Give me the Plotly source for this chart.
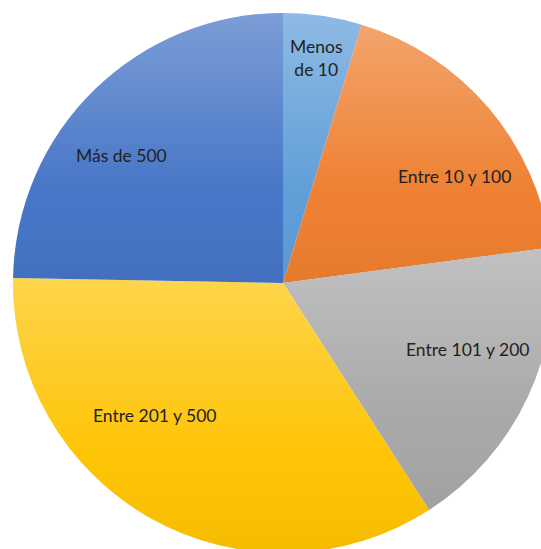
import base64
import math
import plotly.graph_objects as go

# Share of each group (percent), clockwise from 12 o'clock
categories = ["Menos de 10", "Entre 10 y 100", "Entre 101 y 200", "Entre 201 y 500", "Más de 500"]
shares = [4.7, 18.2, 18.0, 34.4, 24.7]
label_text = ["Menos<br>de 10", "Entre 10 y 100", "Entre 101 y 200", "Entre 201 y 500", "Más de 500"]
colors = ["#5e9dd8", "#ee7e2e", "#a7a7a7", "#fec300", "#4474c6"]

# Label anchor points in paper coordinates (x, y)
label_pos = [(0.561, 0.917), (0.817, 0.698), (0.843, 0.376), (0.263, 0.255), (0.200, 0.737)]

# Figure geometry: the pie fills a 540 px square and runs off the page edge
SIZE = 540
PAD = 13
FONT = "Lato, 'Open Sans', sans-serif"


def shading_svg(values):
    """Vertical light-to-dark gradient overlay for each slice."""
    total = float(sum(values))
    r = SIZE / 2.0
    defs, paths = [], []
    start = 0.0
    for i, v in enumerate(values):
        end = start + 360.0 * v / total
        a0, a1 = math.radians(start), math.radians(end)
        x0, y0 = r + r * math.sin(a0), r - r * math.cos(a0)
        x1, y1 = r + r * math.sin(a1), r - r * math.cos(a1)
        large = 1 if end - start > 180 else 0
        defs.append(
            f'<linearGradient id="g{i}" x1="0" y1="0" x2="0" y2="1">'
            f'<stop offset="0" stop-color="#ffffff" stop-opacity="0.30"/>'
            f'<stop offset="0.65" stop-color="#ffffff" stop-opacity="0.02"/>'
            f'<stop offset="1" stop-color="#000000" stop-opacity="0.04"/>'
            f'</linearGradient>'
        )
        paths.append(
            f'<path d="M{r},{r} L{x0:.2f},{y0:.2f} A{r},{r} 0 {large} 1 {x1:.2f},{y1:.2f} Z" fill="url(#g{i})"/>'
        )
        start = end
    svg = (
        f'<svg xmlns="http://www.w3.org/2000/svg" width="{SIZE}" height="{SIZE}" viewBox="0 0 {SIZE} {SIZE}">'
        f'<defs>{"".join(defs)}</defs>{"".join(paths)}</svg>'
    )
    return "data:image/svg+xml;base64," + base64.b64encode(svg.encode()).decode()


fig = go.Figure(
    go.Pie(
        labels=categories,
        values=shares,
        sort=False,
        direction="clockwise",
        rotation=0,
        marker=dict(colors=colors, line=dict(width=0)),
        textinfo="none",
        hoverinfo="label+percent",
        showlegend=False,
    )
)

fig.add_layout_image(
    source=shading_svg(shares),
    xref="paper", yref="paper",
    x=0, y=1, sizex=1, sizey=1,
    xanchor="left", yanchor="top",
    sizing="stretch", layer="above",
)

for txt, (px, py) in zip(label_text, label_pos):
    fig.add_annotation(
        x=px, y=py, xref="paper", yref="paper",
        text=txt, showarrow=False,
        xanchor="center", yanchor="middle",
        font=dict(family=FONT, size=17.5, color="#222222"),
    )

fig.update_layout(
    width=SIZE + 2 * PAD,
    height=SIZE + 2 * PAD,
    margin=dict(l=PAD, r=PAD, t=PAD, b=PAD),
    paper_bgcolor="white",
    plot_bgcolor="white",
)

fig.write_html(
    "out.html",
    post_script="document.body.style.overflow='hidden';document.documentElement.style.overflow='hidden';document.body.style.margin='0';",
)
